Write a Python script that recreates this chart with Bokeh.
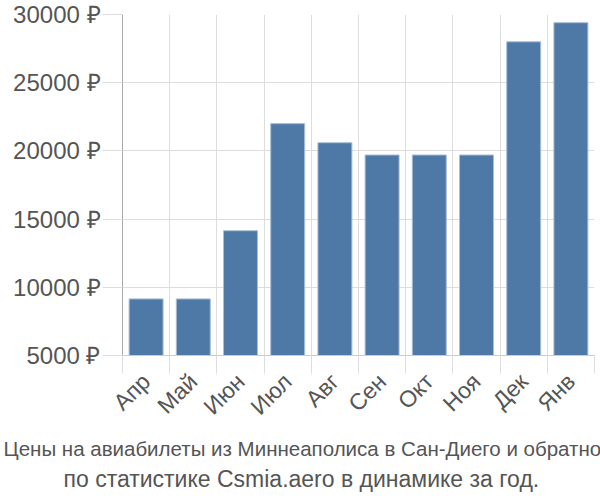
import math
from bokeh.plotting import figure
from bokeh.models import FixedTicker, Range1d, Title, ColumnDataSource, NumeralTickFormatter
from bokeh.embed import file_html
from bokeh.resources import INLINE

months = ["Апр", "Май", "Июн", "Июл", "Авг", "Сен", "Окт", "Ноя", "Дек", "Янв"]
prices = [9150, 9150, 14150, 22000, 20600, 19700, 19700, 19700, 28000, 29400]
y_ticks = [5000, 10000, 15000, 20000, 25000, 30000]
title_lines = ["Цены на авиабилеты из Миннеаполиса в Сан-Диего и обратно",
               "по статистике Csmia.aero в динамике за год."]

xs = [i + 0.5 for i in range(len(months))]
src = ColumnDataSource(dict(x=xs, top=prices, month=months))

p = figure(width=600, height=500, output_backend="svg", toolbar_location=None,
           x_range=Range1d(0, len(months)), y_range=Range1d(5000, 30000),
           min_border_left=122, min_border_right=6, min_border_top=14, min_border_bottom=145)
p.outline_line_color = None
p.background_fill_color = "white"

p.vbar(x="x", top="top", bottom=5000, width=0.72, source=src,
       fill_color="#4e79a7", line_color="#a9bfd8", line_width=1)

font = "Liberation Sans"
# x axis
xa = p.xaxis[0]
xa.ticker = FixedTicker(ticks=xs, minor_ticks=list(range(len(months) + 1)))
xa.major_label_overrides = {x: m for x, m in zip(xs, months)}
xa.major_label_orientation = math.pi / 4
xa.major_tick_out = 0
xa.major_tick_in = 0
xa.minor_tick_out = 18
xa.minor_tick_in = 0
xa.minor_tick_line_color = "#dddddd"
xa.axis_line_color = "#cccccc"
xa.major_label_text_font = font
xa.major_label_text_font_size = "23px"
xa.major_label_text_color = "#555555"
xa.major_label_standoff = 4

# y axis
ya = p.yaxis[0]
ya.ticker = FixedTicker(ticks=y_ticks)
ya.formatter = NumeralTickFormatter(format="0")
ya.major_label_overrides = {v: f"{v} ₽" for v in y_ticks}
ya.major_tick_out = 20
ya.major_tick_in = 0
ya.major_tick_line_color = "#dddddd"
ya.minor_tick_line_color = None
ya.axis_line_color = "#aaaaaa"
ya.major_label_text_font = font
ya.major_label_text_font_size = "24px"
ya.major_label_text_color = "#555555"
ya.major_label_standoff = 2

p.xgrid.ticker = FixedTicker(ticks=list(range(len(months) + 1)))
p.xgrid.grid_line_color = "#dddddd"
p.ygrid.ticker = FixedTicker(ticks=y_ticks)
p.ygrid.grid_line_color = "#dddddd"

for line, fs, so, off in zip(title_lines, ["20.5px", "23px"], [6, 2], [-119, -59]):
    p.add_layout(Title(text=line, align="left", offset=off, text_font=font,
                       text_font_size=fs, text_color="#555555",
                       text_font_style="normal", standoff=so), "below")

open("out.html", "w").write(file_html(p, INLINE))
